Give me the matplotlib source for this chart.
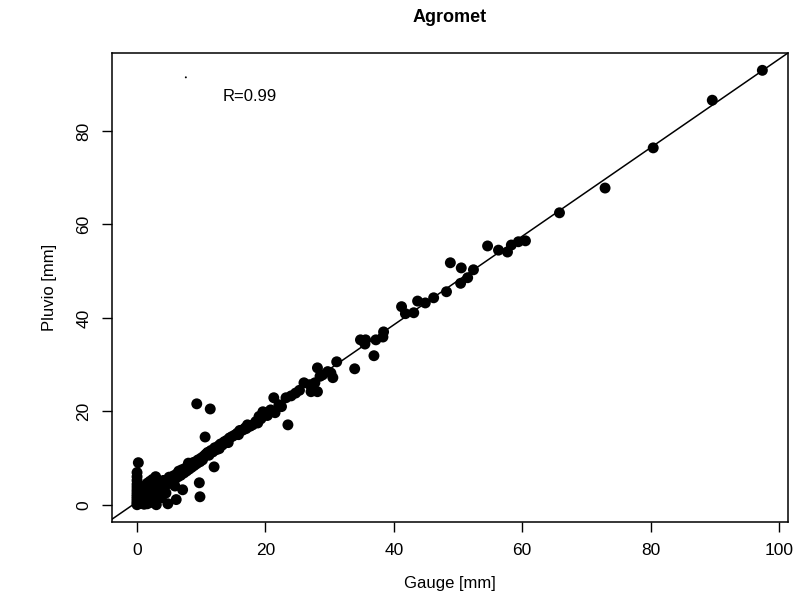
import matplotlib
matplotlib.use("Agg")
import matplotlib.pyplot as plt
import numpy as np

plt.rcParams['font.family'] = ['Liberation Sans', 'DejaVu Sans']

# daily precipitation, gauge vs pluvio (Agromet station)
gauge = [0, 0, 0, 0, 0, 0, 0, 0, 0, 0, 0, 0, 0, 0, 0.2,
         0.1, 0.3, 0.4, 0.5, 0.6, 0.7, 0.8, 0.9, 1.0, 1.1, 1.2, 1.3, 1.4, 1.5, 1.6,
         1.7, 1.8, 1.9, 2.0, 2.1, 2.2, 2.3, 2.4, 2.5, 2.6, 2.8, 3.0, 3.0, 3.1, 3.3,
         3.4, 3.6, 3.8, 3.9, 4.0, 4.2, 4.4, 4.5, 4.7, 4.8, 4.9, 5.1, 5.3, 5.5, 5.7,
         5.9, 6.0, 6.1, 6.2, 6.4, 6.6, 6.8, 7.0, 7.1, 7.3, 7.5, 7.7, 7.9, 8.1, 8.3,
         8.5, 8.7, 8.9, 9.1, 9.3, 9.3, 9.5, 9.7, 9.8, 9.8, 10.0, 10.2, 10.4, 10.6, 10.7,
         11.0, 11.2, 11.4, 11.5, 11.8, 12.0, 12.1, 12.4, 12.7, 13.0, 13.3, 13.6, 14.0, 14.4, 14.8,
         15.2, 15.6, 16.0, 16.5, 16.8, 17.2, 17.6, 18.0, 18.5, 19.0, 19.3, 19.6, 19.8, 20.3, 20.8,
         21.3, 21.5, 22.1, 22.5, 23.2, 23.5, 24.0, 24.7, 25.3, 26.0, 26.9, 27.1, 27.7, 28.1, 28.1,
         28.5, 28.9, 29.7, 30.2, 30.5, 31.1, 33.9, 34.8, 35.5, 35.6, 36.9, 37.2, 38.3, 38.4, 41.2,
         41.8, 43.1, 43.7, 44.9, 46.2, 48.2, 48.8, 50.4, 50.5, 51.5, 52.4, 54.6, 56.3, 57.7, 58.3,
         59.4, 60.5, 65.8, 72.9, 80.4, 89.6, 97.4,
         0.3, 0.5, 0.8, 1.0, 1.3, 1.6, 2.0, 2.4, 2.9, 3.5, 4.1, 0.2, 0.6, 1.1,
         5.0, 6.5, 8.0, 12.8, 14.2, 15.8, 17.0, 18.8]
pluvio = [0, 0.3, 0.6, 1.0, 1.4, 1.8, 2.2, 2.7, 3.2, 3.8, 4.4, 5.2, 6.0, 6.9, 9.0,
          0.2, 0.5, 1.1, 0.3, 0.9, 1.6, 0.4, 1.2, 2.0, 0.6, 1.5, 2.6, 0.9, 1.8, 0.2,
          1.2, 2.3, 3.2, 1.6, 2.8, 0.5, 2.0, 3.5, 2.4, 1.2, 3.0, 0.0, 2.2, 3.8, 2.8,
          4.2, 3.4, 1.5, 4.6, 3.6, 4.0, 5.0, 2.5, 4.4, 0.2, 5.4, 4.8, 5.8, 5.2, 6.2,
          4.0, 5.6, 1.1, 6.6, 6.0, 7.0, 6.3, 7.5, 3.2, 6.8, 7.8, 7.2, 8.2, 7.6, 8.6,
          8.0, 9.0, 8.4, 9.2, 8.8, 21.6, 9.6, 4.7, 1.7, 9.2, 10.0, 9.6, 10.4, 14.5, 10.8,
          11.2, 10.6, 20.5, 11.6, 11.3, 8.1, 12.2, 11.8, 12.6, 13.0, 12.8, 13.5, 13.8, 14.3, 14.6,
          14.9, 15.3, 15.9, 16.0, 16.4, 17.1, 16.8, 17.1, 17.8, 18.9, 18.4, 19.9, 19.7, 19.1, 20.3,
          22.9, 19.7, 21.4, 21.0, 22.9, 17.1, 23.3, 23.9, 24.5, 26.1, 25.7, 24.2, 26.1, 24.2, 29.3,
          27.5, 27.8, 28.5, 28.2, 27.2, 30.6, 29.1, 35.3, 34.4, 35.3, 31.9, 35.3, 35.9, 37.0, 42.4,
          40.9, 41.1, 43.6, 43.2, 44.3, 45.6, 51.8, 47.4, 50.7, 48.6, 50.3, 55.4, 54.5, 54.1, 55.6,
          56.3, 56.5, 62.5, 67.8, 76.4, 86.6, 93.0,
          1.6, 2.4, 3.0, 3.6, 4.0, 4.6, 5.0, 5.4, 6.0, 4.6, 5.2, 4.2, 3.8, 0.1,
          5.9, 7.2, 8.9, 12.0, 13.3, 15.0, 16.3, 17.5]

# fitted line (intercept, slope)
fit_a = 0.6
fit_b = 0.948
r_value = 0.99

# stray dot at top left of the original
stray_x = [7.6]
stray_y = [91.5]

fig = plt.figure(figsize=(8.07, 5.96), dpi=100)
ax = fig.add_axes([0.1388, 0.124, 0.8377, 0.787])

ax.scatter(gauge, pluvio, s=62, c="black", edgecolors="none", zorder=3)
ax.scatter(stray_x, stray_y, s=2, c="black", edgecolors="none")
ax.axline((0, fit_a), slope=fit_b, color="black", lw=1.1, zorder=2)

ax.set_xlim(-3.9, 101.4)
ax.set_ylim(-3.72, 96.7)
ax.set_xticks([0, 20, 40, 60, 80, 100])
ax.set_yticks([0, 20, 40, 60, 80])
ax.tick_params(direction="out", length=7, width=1, labelsize=12.5, pad=8)
plt.setp(ax.get_yticklabels(), rotation=90, va="center")
for s in ax.spines.values():
    s.set_linewidth(1.1)

ax.text(13.4, 87.3, "R=%.2f" % r_value, fontsize=12, va="center", ha="left")

ax.set_xlabel("Gauge [mm]", fontsize=12, labelpad=13)
ax.set_ylabel("Pluvio [mm]", fontsize=12, labelpad=14)
ax.set_title("Agromet", fontsize=13, fontweight="bold", pad=22)

fig.savefig("out.png", dpi=100)
